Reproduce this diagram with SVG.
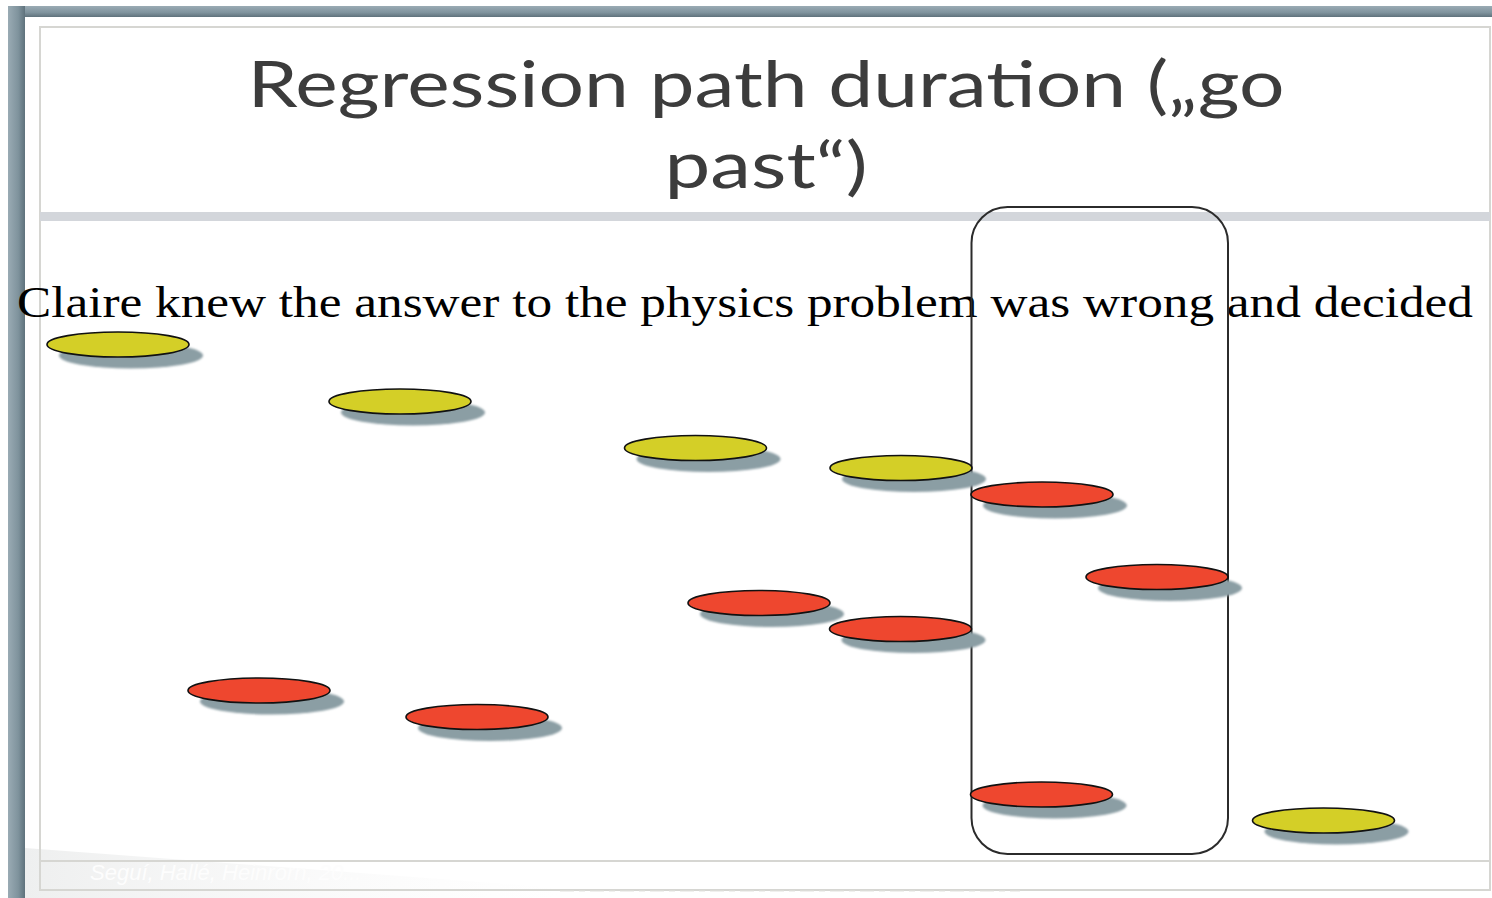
<svg xmlns="http://www.w3.org/2000/svg" width="1492" height="898" viewBox="0 0 1492 898">
  <defs>
    <linearGradient id="barTop" x1="0" y1="0" x2="0" y2="1">
      <stop offset="0" stop-color="#9aabb4"/>
      <stop offset="0.6" stop-color="#7f939d"/>
      <stop offset="1" stop-color="#5f727c"/>
    </linearGradient>
    <linearGradient id="barLeft" x1="0" y1="0" x2="1" y2="0">
      <stop offset="0" stop-color="#9aabb4"/>
      <stop offset="0.6" stop-color="#7f939d"/>
      <stop offset="1" stop-color="#5f727c"/>
    </linearGradient>
    <linearGradient id="reflect" x1="0" y1="0" x2="1" y2="0">
      <stop offset="0" stop-color="#eeefef"/>
      <stop offset="1" stop-color="#f8f8f8" stop-opacity="0"/>
    </linearGradient>
    <filter id="soft" x="-10%" y="-50%" width="120%" height="200%">
      <feGaussianBlur stdDeviation="1.2"/>
    </filter>
    <g id="disc">
      <ellipse cx="13" cy="11" rx="72" ry="13" class="shadow" filter="url(#soft)"/>
    </g>
  </defs>
  <style>
    .shadow { fill: #8b9ea4; }
    .yel { fill: #d4cf27; stroke: #111; stroke-width: 1.6; }
    .red { fill: #ee472f; stroke: #111; stroke-width: 1.6; }
    .title { font-family: Lato, "Open Sans", sans-serif; font-size: 64px; fill: #3c3c3c; }
    .sent { font-family: "Liberation Serif", "Times New Roman", serif; font-size: 44px; fill: #000; }
    .rule { stroke: #d6d6d2; stroke-width: 2; fill: none; }
  </style>

  <rect x="0" y="0" width="1492" height="898" fill="#ffffff"/>

  <!-- slide frame -->
  <g id="frame">
    <rect x="8" y="6" width="1484" height="11" fill="url(#barTop)"/>
    <rect x="8" y="6" width="17" height="892" fill="url(#barLeft)"/>
    <rect x="25" y="17" width="1467" height="881" fill="#ffffff"/>
    <polygon points="25,848 560,888 560,898 25,898" fill="url(#reflect)"/>
    <rect x="40" y="27" width="1450" height="863" class="rule"/>
    <rect x="40" y="212" width="1450" height="9" fill="#d3d6db"/>
    <line x1="40" y1="861" x2="1490" y2="861" class="rule"/>
    <line x1="560" y1="891" x2="1020" y2="891" stroke="#e2e2de" stroke-width="1" stroke-dasharray="14 5 6 5"/>
    <text x="90" y="880" font-family="Liberation Sans, Arial, sans-serif" font-size="22" font-style="italic" fill="#fdfdfd">Seguí, Hallé, Heinrorn, 20...</text>
  </g>

  <!-- title -->
  <g id="title">
    <text class="title" text-anchor="middle"><tspan x="766" y="107" textLength="1037" lengthAdjust="spacingAndGlyphs">Regression path duration („go</tspan><tspan x="766" y="188" textLength="203" lengthAdjust="spacingAndGlyphs">past“)</tspan></text>
  </g>

  <!-- sentence -->
  <g id="sentence">
    <text class="sent" x="17" y="317" textLength="1456" lengthAdjust="spacingAndGlyphs">Claire knew the answer to the physics problem was wrong and decided</text>
  </g>

  <!-- region box -->
  <g id="region-box">
    <rect x="971.5" y="207" width="256.5" height="647" rx="36" ry="36" fill="none" stroke="#2b2b2b" stroke-width="2"/>
  </g>

  <!-- fixations -->
  <g id="fix-1"><use href="#disc" x="118" y="344.5"/><ellipse cx="118" cy="344.5" rx="71" ry="12.5" class="yel"/></g>
  <g id="fix-2"><use href="#disc" x="400" y="401.5"/><ellipse cx="400" cy="401.5" rx="71" ry="12.5" class="yel"/></g>
  <g id="fix-3"><use href="#disc" x="695.5" y="448"/><ellipse cx="695.5" cy="448" rx="71" ry="12.5" class="yel"/></g>
  <g id="fix-4"><use href="#disc" x="901" y="468"/><ellipse cx="901" cy="468" rx="71" ry="12.5" class="yel"/></g>
  <g id="fix-5"><use href="#disc" x="1042" y="494.5"/><ellipse cx="1042" cy="494.5" rx="71" ry="12.5" class="red"/></g>
  <g id="fix-6"><use href="#disc" x="1157" y="577"/><ellipse cx="1157" cy="577" rx="71" ry="12.5" class="red"/></g>
  <g id="fix-7"><use href="#disc" x="759" y="603"/><ellipse cx="759" cy="603" rx="71" ry="12.5" class="red"/></g>
  <g id="fix-8"><use href="#disc" x="900.5" y="629"/><ellipse cx="900.5" cy="629" rx="71" ry="12.5" class="red"/></g>
  <g id="fix-9"><use href="#disc" x="259" y="690.5"/><ellipse cx="259" cy="690.5" rx="71" ry="12.5" class="red"/></g>
  <g id="fix-10"><use href="#disc" x="477" y="717"/><ellipse cx="477" cy="717" rx="71" ry="12.5" class="red"/></g>
  <g id="fix-11"><use href="#disc" x="1041.5" y="794.5"/><ellipse cx="1041.5" cy="794.5" rx="71" ry="12.5" class="red"/></g>
  <g id="fix-12"><use href="#disc" x="1323.5" y="820.5"/><ellipse cx="1323.5" cy="820.5" rx="71" ry="12.5" class="yel"/></g>

  <g id="connectors"/>
</svg>
